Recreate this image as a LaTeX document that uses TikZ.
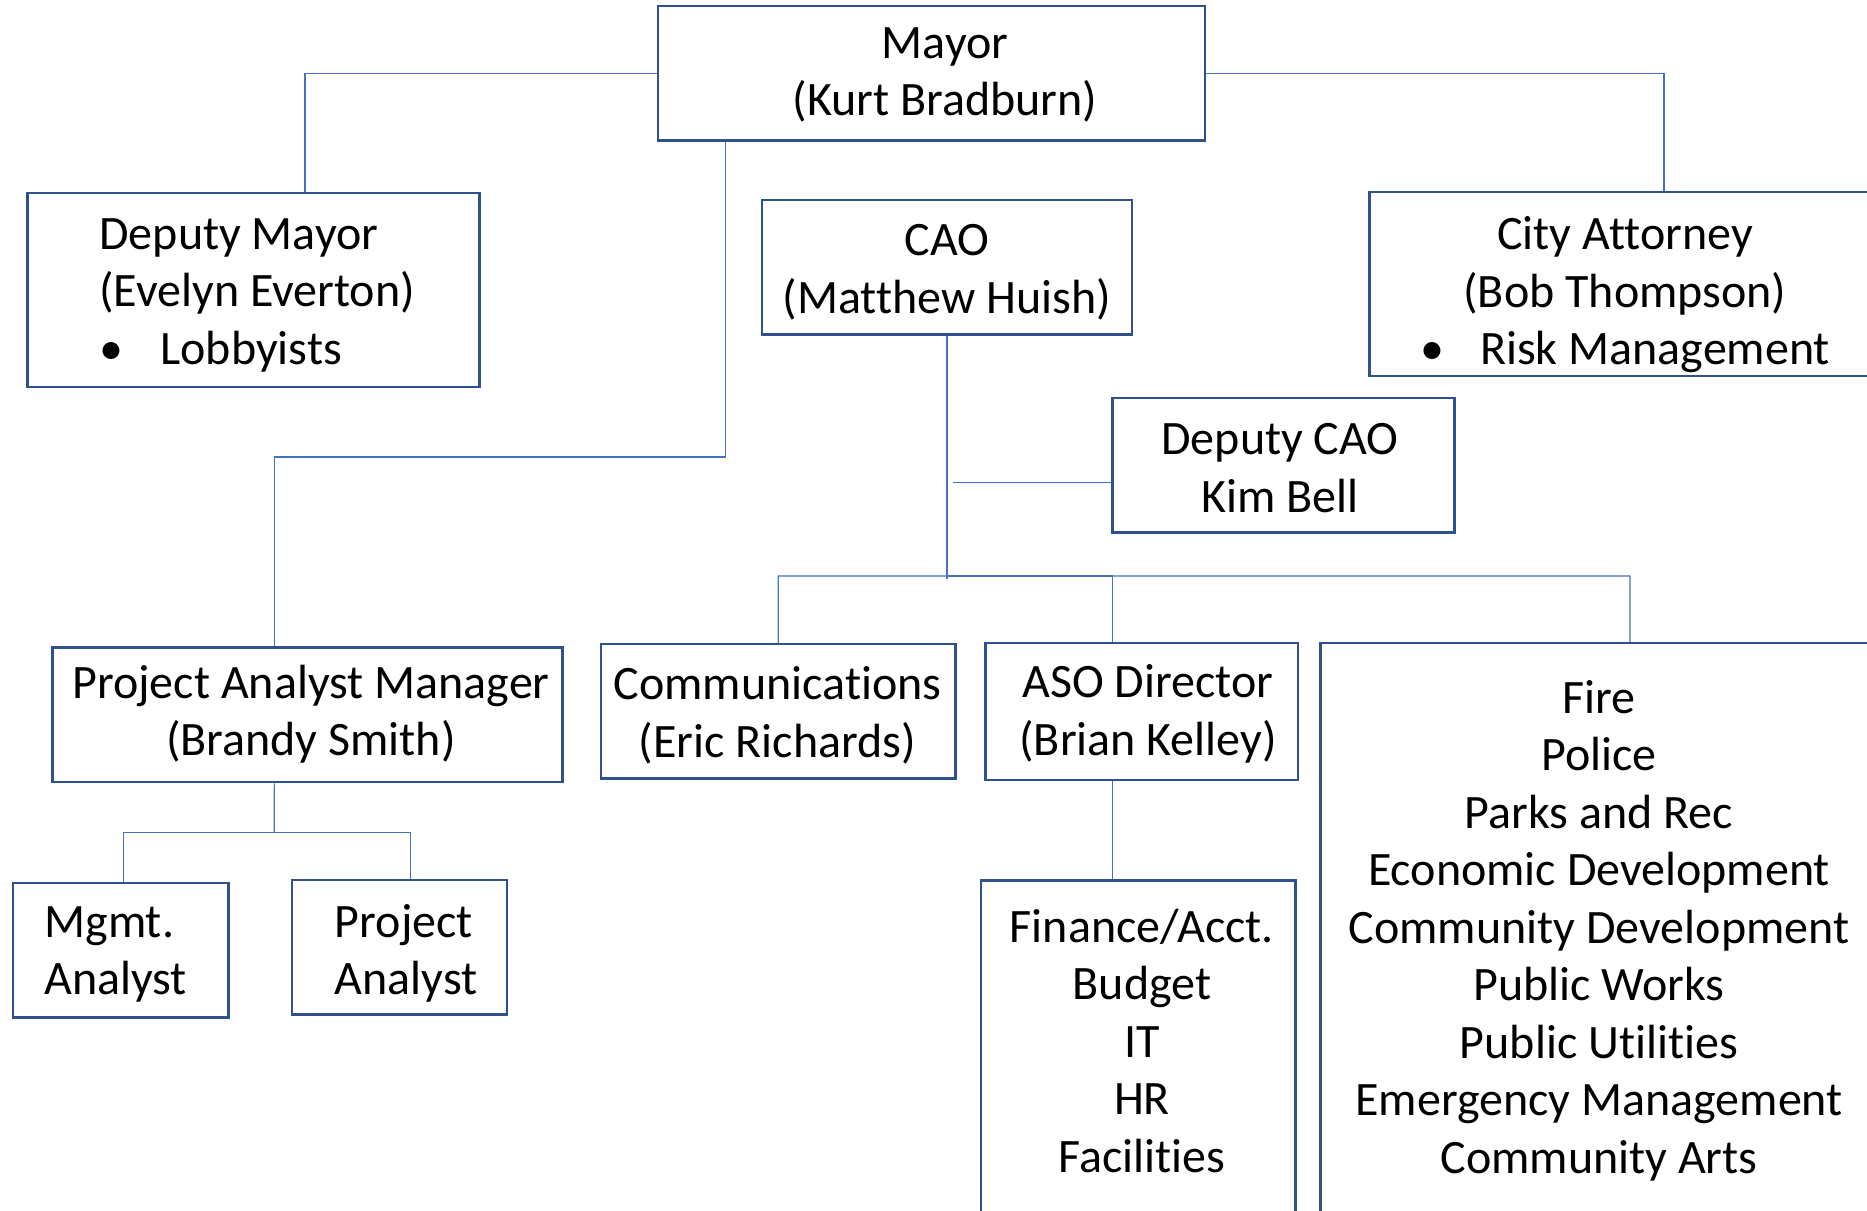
\documentclass[tikz,border=0pt]{standalone}
\usepackage{fontspec}
\setmainfont[Ligatures=NoCommon]{Carlito}
\usetikzlibrary{calc,fit}
\definecolor{boxblue}{HTML}{2F528F}
\definecolor{linkblue}{HTML}{4472C4}
\begin{document}
\begin{tikzpicture}[x=0.5pt,y=-0.5pt,
  box/.style={draw=boxblue,line width=1.25pt,rectangle,inner sep=0pt},
  conn/.style={draw=linkblue,line width=0.6pt},
  txt/.style={font=\fontsize{24}{28.75}\selectfont,inner sep=0pt,align=center}]
\clip (0,0) rectangle (1867,1210);
\fill[white] (0,0) rectangle (1867,1210);
% boxes
\node[box, fit={(658,6.2) (1205,140.5)}] (mayor) {};
\node[box, fit={(27.4,193) (479.6,387)}] (dm) {};
\node[box, fit={(762,200) (1132,334.5)}] (cao) {};
\node[box, fit={(1369.5,191.8) (1881,376)}] (ca) {};
\node[box, fit={(1112.6,397.8) (1454.5,532.5)}] (dcao) {};
\node[box, fit={(52.4,647.4) (562.3,782)}] (pam) {};
\node[box, fit={(601,644) (955.6,778.6)}] (comm) {};
\node[box, fit={(985.4,643.2) (1298,780.2)}] (aso) {};
\node[box, fit={(1320.7,643.2) (1878,1225)}] (big) {};
\node[box, fit={(13,882.8) (228.5,1017.5)}] (mgmt) {};
\node[box, fit={(292,880) (507,1014.4)}] (pa) {};
\node[box, fit={(981.2,880.5) (1295.7,1225)}] (fin) {};
% texts
\node[txt] (mayorT) at (945,75.5) {\strut Mayor\\\strut (Kurt Bradburn)};
\node[txt,align=left,anchor=west] (dmT) at (99,295) {\strut Deputy Mayor\\\strut (Evelyn Everton)\\\strut\makebox[30.5pt][l]{•}Lobbyists};
\node[txt] (caoT) at (947,273) {\strut CAO\\\strut (Matthew Huish)};
\node[txt] (caT) at (1625,295.5) {\strut City Attorney\\\strut (Bob Thompson)\\\strut\makebox[30pt][l]{•}Risk Management};
\node[txt] (dcaoT) at (1280,472) {\strut Deputy CAO\\\strut Kim Bell};
\node[txt] (pamT) at (311,715.5) {\strut Project Analyst Manager\\\strut (Brandy Smith)};
\node[txt] (commT) at (777.5,717) {\strut Communications\\\strut (Eric Richards)};
\node[txt] (asoT) at (1148,715) {\strut ASO Director\\\strut (Brian Kelley)};
\node[txt,align=left,anchor=west] (mgmtT) at (44,954.5) {\strut Mgmt.\\\strut Analyst};
\node[txt,align=left,anchor=west] (paT) at (334.5,954.5) {\strut Project\\\strut Analyst};
\node[txt] (finT) at (1142,1045.5) {\strut Finance/Acct.\\\strut Budget\\\strut IT\\\strut HR\\\strut Facilities};
\node[txt] (bigT) at (1599,931.5) {\strut Fire\\\strut Police\\\strut Parks and Rec\\\strut Economic Development\\\strut Community Development\\\strut Public Works\\\strut Public Utilities\\\strut Emergency Management\\\strut Community Arts};
% junction coordinates
\coordinate (bendA) at (725.5,457);
\coordinate (busC) at (947,576);
\coordinate (busR) at (1630,576);
\coordinate (dcaoJ) at (952.6,482.3);
\coordinate (pamJ) at (274.3,832.6);
% connectors
\draw[conn] (mayor.west) -| ($(dm.north)+(51.5,0)$);
\draw[conn] (mayor.east) -| ($(ca.north)+(38.75,0)$);
\draw[conn] ($(mayor.south)+(-206,0)$) -- (bendA) -| ($(pam.north)+(-33,0)$);
\draw[conn] (cao.south) -- ($(busC)+(0,3)$);
\draw[conn] ($(dcao.west)+(0,17.15)$) -- (dcaoJ);
\draw[conn] (comm.north) |- (busR) -- ($(big.north)+(30.65,0)$);
\draw[conn] ($(aso.north)+(-29.1,0)$) |- (busC);
\draw[conn] ($(aso.south)+(-29.1,0)$) -- ($(fin.north)+(-25.85,0)$);
\draw[conn] ($(pam.south)+(-33,0)$) -- (pamJ);
\draw[conn] ($(mgmt.north)+(2.45,0)$) |- (pamJ) -| ($(pa.north)+(11.1,0)$);
\end{tikzpicture}
\end{document}
